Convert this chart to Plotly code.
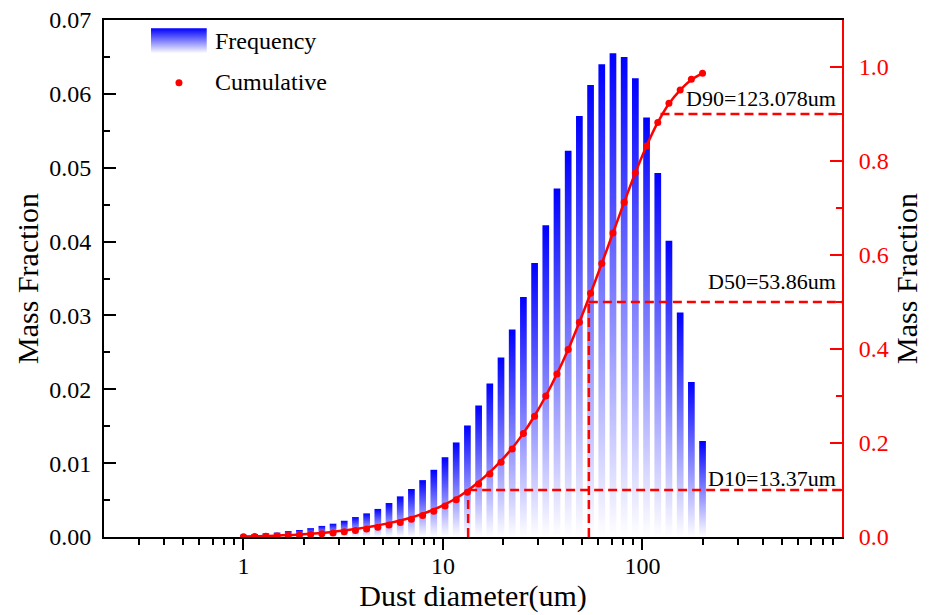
import math
import plotly.graph_objects as go

# ---------------- data ----------------
diameters = [1.000, 1.138, 1.295, 1.474, 1.677, 1.908, 2.171, 2.471, 2.812, 3.200,
             3.641, 4.143, 4.715, 5.365, 6.106, 6.948, 7.906, 8.997, 10.24, 11.65,
             13.26, 15.09, 17.17, 19.54, 22.23, 25.30, 28.79, 32.76, 37.28, 42.42,
             48.27, 54.93, 62.51, 71.13, 80.94, 92.11, 104.8, 119.3, 135.7, 154.5,
             175.8, 200.0]

frequency = [0.0003, 0.0004, 0.0005, 0.0006, 0.0008, 0.00095, 0.0012, 0.0015, 0.0018, 0.0022,
             0.0027, 0.0032, 0.0038, 0.0046, 0.0055, 0.0065, 0.0077, 0.0091, 0.0108, 0.0128,
             0.0151, 0.0178, 0.0208, 0.0243, 0.0281, 0.0325, 0.0371, 0.0422, 0.0472, 0.0523,
             0.0570, 0.0612, 0.0640, 0.0655, 0.0650, 0.0621, 0.0568, 0.0493, 0.0401, 0.0304,
             0.0210, 0.0130]

cumulative = [0.0005, 0.001, 0.0015, 0.002, 0.003, 0.004, 0.0053, 0.0068, 0.0087, 0.011,
              0.0137, 0.017, 0.021, 0.0255, 0.031, 0.038, 0.0455, 0.055, 0.066, 0.079,
              0.095, 0.113, 0.134, 0.159, 0.187, 0.220, 0.257, 0.300, 0.347, 0.399,
              0.457, 0.5185, 0.582, 0.647, 0.712, 0.775, 0.832, 0.882, 0.923, 0.951,
              0.974, 0.9866]

cumulative_curve = [0.001, 0.0015, 0.002, 0.003, 0.004, 0.0052, 0.0068, 0.0087, 0.011, 0.0137,
                    0.017, 0.0205, 0.0247, 0.0295, 0.035, 0.0415, 0.0492, 0.0585, 0.0695, 0.0825,
                    0.0985, 0.117, 0.138, 0.162, 0.189, 0.221, 0.258, 0.300, 0.347, 0.399,
                    0.457, 0.518, 0.582, 0.647, 0.712, 0.775, 0.832, 0.882, 0.922, 0.951,
                    0.973, 0.9866]

d_names = ["D10", "D50", "D90"]
d_sizes = [13.37, 53.86, 123.078]
d_fractions = [0.1, 0.5, 0.9]
d_texts = ["D10=13.37um", "D50=53.86um", "D90=123.078um"]
d_vertical = [True, True, False]

legend_labels = ["Frequency", "Cumulative"]

x_tickvals = [1, 10, 100]
x_minor_ticks = [0.3, 0.4, 0.5, 0.6, 0.7, 0.8, 0.9,
                 2, 3, 4, 5, 6, 7, 8, 9,
                 20, 30, 40, 50, 60, 70, 80, 90,
                 200, 300, 400, 500, 600, 700, 800, 900]
x_min, x_max = 0.2, 1000
y1_max = 0.07
y2_max = 1.1
y2_tickvals = [0.0, 0.2, 0.4, 0.6, 0.8, 1.0]

# ---------------- style ----------------
FONT = "Liberation Serif, Times New Roman, serif"
BLUE = "rgb(0,0,255)"
RED = "rgb(255,0,0)"
GRADIENT = [[0, "rgba(255,255,255,1)"], [1, BLUE]]
DASH = "9px,5px"
bar_half_factor = 10 ** 0.0168   # half bar width in log space
D_TEXT_YSHIFT = [-3, 6, 1]       # per-label vertical nudge (px)

# legend box placement (fractions of the plot area)
LEG_SWATCH_X = (0.0637, 0.1392)
LEG_SWATCH_Y = (0.9356, 0.984)
LEG_DOT = (0.1016, 0.8787)
LEG_TEXT_X = 0.148
LEG_TEXT_Y = [0.960, 0.880]

fig = go.Figure()

# gradient bars (each bar its own vertical gradient)
for i, (d, f) in enumerate(zip(diameters, frequency)):
    xl, xr = d / bar_half_factor, d * bar_half_factor
    fig.add_trace(go.Scatter(
        x=[xl, xr, xr, xl, xl], y=[0, 0, f, f, 0],
        mode="lines", line=dict(width=0, color=BLUE),
        fill="toself", fillgradient=dict(type="vertical", colorscale=GRADIENT),
        name="Frequency", showlegend=False,
        hoverinfo="skip", xaxis="x", yaxis="y"))

# dashed reference lines
for name, ds, fr, vert in zip(d_names, d_sizes, d_fractions, d_vertical):
    fig.add_trace(go.Scatter(
        x=[ds, x_max], y=[fr, fr], mode="lines",
        line=dict(color=RED, width=2.5, dash=DASH),
        showlegend=False, hoverinfo="skip", yaxis="y2"))
    if vert:
        fig.add_trace(go.Scatter(
            x=[ds, ds], y=[0, fr], mode="lines",
            line=dict(color=RED, width=2.5, dash=DASH),
            showlegend=False, hoverinfo="skip", yaxis="y2"))

# cumulative smooth curve
fig.add_trace(go.Scatter(
    x=diameters, y=cumulative_curve, mode="lines",
    line=dict(color=RED, width=2.5, shape="spline"),
    showlegend=False, hoverinfo="skip", yaxis="y2"))

# cumulative points
fig.add_trace(go.Scatter(
    x=diameters, y=cumulative, mode="markers",
    marker=dict(color=RED, size=7),
    name="Cumulative", showlegend=False, yaxis="y2"))

# ---- legend (drawn on an invisible overlay axis spanning the plot area) ----
sx0, sx1 = LEG_SWATCH_X
sy0, sy1 = LEG_SWATCH_Y
fig.add_trace(go.Scatter(
    x=[sx0, sx1, sx1, sx0, sx0], y=[sy0, sy0, sy1, sy1, sy0],
    mode="lines", line=dict(width=0, color=BLUE),
    fill="toself", fillgradient=dict(type="vertical", colorscale=GRADIENT),
    showlegend=False, hoverinfo="skip", xaxis="x3", yaxis="y3"))
fig.add_trace(go.Scatter(
    x=[LEG_DOT[0]], y=[LEG_DOT[1]], mode="markers",
    marker=dict(color=RED, size=7),
    showlegend=False, hoverinfo="skip", xaxis="x3", yaxis="y3"))
for lbl, ly in zip(legend_labels, LEG_TEXT_Y):
    fig.add_annotation(x=LEG_TEXT_X, xref="paper", y=ly, yref="paper",
                       text=lbl, showarrow=False, xanchor="left", yanchor="middle",
                       font=dict(family=FONT, size=24, color="black"))

# annotations for D values
for txt, fr, ys in zip(d_texts, d_fractions, D_TEXT_YSHIFT):
    fig.add_annotation(
        x=0.995, xref="paper", y=fr, yref="y2",
        text=txt, showarrow=False, xanchor="right", yanchor="bottom",
        font=dict(family=FONT, size=22, color="black"), yshift=ys)

axis_font = dict(family=FONT, size=24, color="black")
title_font = dict(family=FONT, size=30, color="black")

fig.update_layout(
    width=935, height=615,
    margin=dict(l=104, r=93, t=20, b=78, autoexpand=False),
    paper_bgcolor="white", plot_bgcolor="white",
    font=dict(family=FONT, size=24, color="black"),
    xaxis=dict(
        type="log", range=[math.log10(x_min), math.log10(x_max)],
        tickvals=x_tickvals, ticktext=[str(v) for v in x_tickvals],
        ticks="outside", ticklen=11, tickwidth=2, tickcolor="black",
        minor=dict(tickvals=x_minor_ticks, ticks="outside", ticklen=6, tickwidth=2, tickcolor="black"),
        showline=True, linecolor="black", linewidth=2, mirror=True,
        showgrid=False, zeroline=False,
        tickfont=axis_font, ticklabelstandoff=-5,
        title=dict(text="Dust diameter(um)", font=title_font, standoff=6),
    ),
    yaxis=dict(
        range=[0, y1_max], dtick=0.01, tickformat=".2f",
        ticks="inside", ticklen=12, tickwidth=2, tickcolor="black",
        minor=dict(dtick=0.005, ticks="inside", ticklen=6, tickwidth=2, tickcolor="black"),
        showline=True, linecolor="black", linewidth=2,
        showgrid=False, zeroline=False,
        tickfont=axis_font, ticklabelstandoff=6,
        title=dict(text="Mass Fraction", font=title_font, standoff=2),
    ),
    yaxis2=dict(
        overlaying="y", side="right", anchor="x",
        range=[0, y2_max], tickvals=y2_tickvals, tickformat=".1f",
        ticks="inside", ticklen=12, tickwidth=2, tickcolor=RED,
        minor=dict(dtick=0.1, ticks="inside", ticklen=6, tickwidth=2, tickcolor=RED),
        showline=True, linecolor=RED, linewidth=2,
        showgrid=False, zeroline=False,
        tickfont=dict(family=FONT, size=24, color=RED), ticklabelstandoff=10,
        title=dict(text="Mass Fraction", font=title_font, standoff=8),
    ),
    xaxis3=dict(overlaying="x", range=[0, 1], visible=False, anchor="y3",
                showgrid=False, zeroline=False),
    yaxis3=dict(overlaying="y", range=[0, 1], visible=False, anchor="x3",
                showgrid=False, zeroline=False),
    showlegend=False,
)

fig.write_html("out.html", config={"displayModeBar": False},
               post_script="document.body.style.margin='0px';")
